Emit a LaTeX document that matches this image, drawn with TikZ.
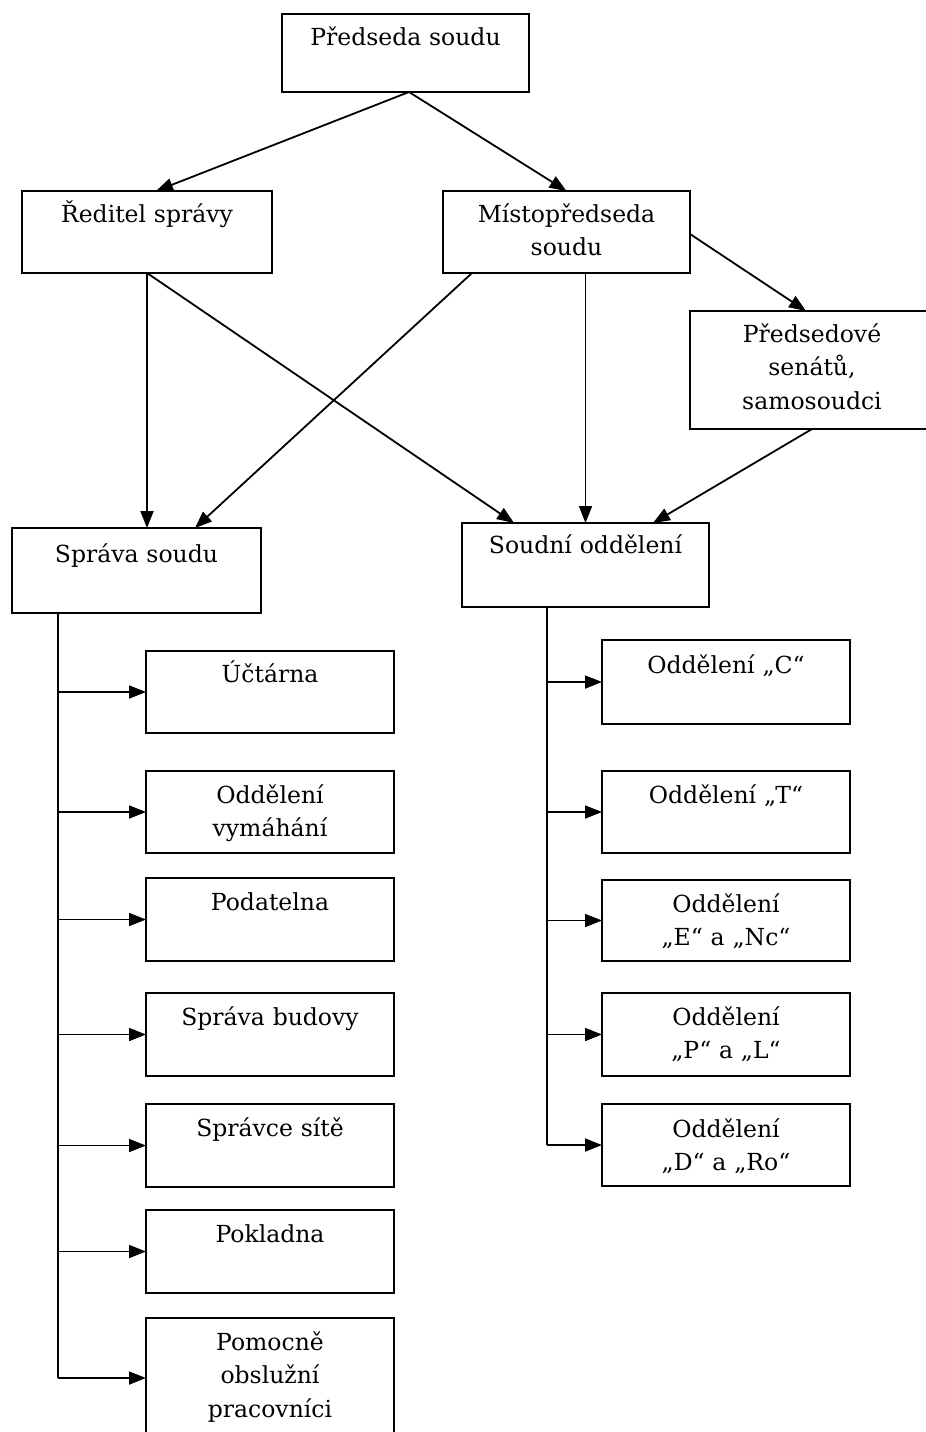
\documentclass[tikz,border=0pt]{standalone}
\usepackage{fontspec}
\setmainfont{DejaVu Serif}
\usetikzlibrary{arrows.meta}
\newcommand\mkbox[5]{\node[box, minimum width={#4-#2}, minimum height={#5-#3}] (#1) at ({(#2+#4)/2},{(#3+#5)/2}) {};}
\begin{document}
\begin{tikzpicture}[x=1pt,y=-1pt,
 box/.style={draw, line width=1.8pt, rectangle, inner sep=0pt, outer sep=0pt},
 lab/.style={anchor=base, text width=236pt, align=center, inner sep=0pt, font=\fontsize{23.5}{33.5}\selectfont},
 arr/.style={line width=1.8pt, -{Triangle[length=17pt,width=13pt]}},
 ln/.style={line width=1.8pt}]
\useasboundingbox[fill=white] (0,0) rectangle (926,1432);
% top level
\mkbox{pred}{282}{14}{529}{92}
\mkbox{red}{22}{191}{272}{273}
\mkbox{mist}{443}{191}{690}{273}
\mkbox{sen}{690}{311}{934}{429}
\mkbox{sprava}{12}{528}{261}{613}
\mkbox{soudni}{462}{523}{709}{607}
% left column
\mkbox{ucet}{146}{651}{394}{733}
\mkbox{vym}{146}{771}{394}{853}
\mkbox{podat}{146}{878}{394}{961}
\mkbox{bud}{146}{993}{394}{1076}
\mkbox{sit}{146}{1104}{394}{1187}
\mkbox{pokl}{146}{1210}{394}{1293}
\mkbox{pom}{146}{1318}{394}{1438}
% right column
\mkbox{oc}{602}{640}{850}{724}
\mkbox{ot}{602}{771}{850}{853}
\mkbox{oe}{602}{880}{850}{961}
\mkbox{op}{602}{993}{850}{1076}
\mkbox{od}{602}{1104}{850}{1186}
% labels
\node[lab] (pred-t) at ([yshift=-31]pred.north) {Předseda soudu};
\node[lab] (red-t) at ([yshift=-31]red.north) {Ředitel správy};
\node[lab] (mist-t) at ([yshift=-31]mist.north) {Místopředseda\\soudu};
\node[lab] (sen-t) at ([yshift=-31]sen.north) {Předsedové\\senátů,\\samosoudci};
\node[lab] (sprava-t) at ([yshift=-34]sprava.north) {Správa soudu};
\node[lab] (soudni-t) at ([yshift=-30]soudni.north) {Soudní oddělení};
\node[lab] (ucet-t) at ([yshift=-31]ucet.north) {Účtárna};
\node[lab] (vym-t) at ([yshift=-32]vym.north) {Oddělení\\vymáhání};
\node[lab] (podat-t) at ([yshift=-32]podat.north) {Podatelna};
\node[lab] (bud-t) at ([yshift=-32]bud.north) {Správa budovy};
\node[lab] (sit-t) at ([yshift=-32]sit.north) {Správce sítě};
\node[lab] (pokl-t) at ([yshift=-32]pokl.north) {Pokladna};
\node[lab] (pom-t) at ([yshift=-32]pom.north) {Pomocně\\obslužní\\pracovníci};
\node[lab] (oc-t) at ([yshift=-33]oc.north) {Oddělení „C“};
\node[lab] (ot-t) at ([yshift=-32]ot.north) {Oddělení „T“};
\node[lab] (oe-t) at ([yshift=-32]oe.north) {Oddělení\\„E“ a „Nc“};
\node[lab] (op-t) at ([yshift=-32]op.north) {Oddělení\\„P“ a „L“};
\node[lab] (od-t) at ([yshift=-33]od.north) {Oddělení\\„D“ a „Ro“};
% upper connectors
\draw[arr] ([xshift=3.5]pred.south) -- ([xshift=9]red.north);
\draw[arr] ([xshift=3.5]pred.south) -- (mist.north);
\draw[arr] ([yshift=-2]mist.east) -- ([xshift=-6]sen.north);
\draw[arr] (red.south) -- (red.south |- sprava.north);
\draw[arr] (red.south) -- ([xshift=-71.5]soudni.north);
\draw[arr] ([xshift=-94.5]mist.south) -- ([xshift=58.5]sprava.north);
\draw[arr] (soudni.north |- mist.south) -- (soudni.north);
\draw[arr] (sen.south) -- ([xshift=67.5]soudni.north);
% left trunk
\coordinate (lt) at ([xshift=-78.5]sprava.south);
\draw[ln] (lt) -- (lt |- pom.west);
\foreach \b in {ucet,vym,podat,bud,sit,pokl,pom}
  \draw[arr] (lt |- \b.west) -- (\b.west);
% right trunk
\coordinate (rt) at ([xshift=-38.5]soudni.south);
\draw[ln] (rt) -- (rt |- od.west);
\foreach \b in {oc,ot,oe,op,od}
  \draw[arr] (rt |- \b.west) -- (\b.west);
\end{tikzpicture}
\end{document}
